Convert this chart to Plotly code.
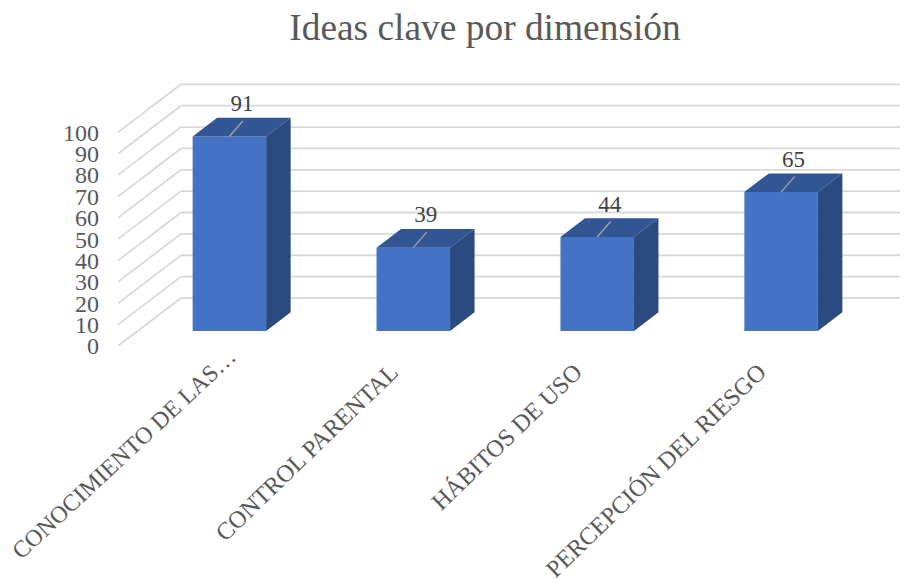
import plotly.graph_objects as go

categories = ["CONOCIMIENTO DE LAS…", "CONTROL PARENTAL", "HÁBITOS DE USO", "PERCEPCIÓN DEL RIESGO"]
values = [91, 39, 44, 65]
y_ticks = [0, 10, 20, 30, 40, 50, 60, 70, 80, 90, 100]

FONT = "Liberation Serif"
TXT = "#595959"
PAGE = 8          # browser body margin around the figure
W, H = 908 - PAGE, 583 - PAGE
PX_X = 183.9      # px per category
PX_Y = 2.137      # px per value unit
L, B_PX = 118 - PAGE, 346 - PAGE
X0 = 229.4 - PAGE  # px of the first category
x_range = [(L - X0) / PX_X, (W - X0) / PX_X]
TOP = 72
y_range = [0, (B_PX - TOP) / PX_Y]

bar_w = 73.5 / PX_X
bar_base = 15 / PX_Y
depth_x, depth_y = 24.5 / PX_X, 18.7 / PX_Y
wall_x, wall_y = 63 / PX_X, 48 / PX_Y
lead_x, lead_y = 13.4 / PX_X, 15.5 / PX_Y
lab_x, lab_y = 12.5 / PX_X, 31 / PX_Y
label_shift = -22 / PX_X

idx = list(range(len(categories)))
fig = go.Figure()

fig.add_trace(go.Bar(x=idx, y=values, base=bar_base, width=bar_w,
                     marker=dict(color="#4472C4", line=dict(width=0)),
                     hoverinfo="x+y", showlegend=False))

for i, v in zip(idx, values):
    xl, xr = i - bar_w / 2, i + bar_w / 2
    top = bar_base + v
    fig.add_trace(go.Scatter(
        x=[xl, xr, xr + depth_x, xl + depth_x, xl],
        y=[top, top, top + depth_y, top + depth_y, top],
        fill="toself", fillcolor="#325594", mode="lines", line=dict(width=0),
        hoverinfo="skip", showlegend=False))
    fig.add_trace(go.Scatter(
        x=[xr, xr + depth_x, xr + depth_x, xr, xr],
        y=[bar_base, bar_base + depth_y, top + depth_y, top, bar_base],
        fill="toself", fillcolor="#2A4A80", mode="lines", line=dict(width=0),
        hoverinfo="skip", showlegend=False))
    fig.add_trace(go.Scatter(
        x=[i, i + lead_x], y=[top, top + lead_y], mode="lines",
        line=dict(color="#A6A6A6", width=1.3), hoverinfo="skip", showlegend=False))

fig.add_trace(go.Scatter(
    x=[i + lab_x for i in idx], y=[bar_base + v + lab_y for v in values],
    mode="text", text=[str(v) for v in values], textposition="middle center",
    textfont=dict(family=FONT, size=23, color="#404040"),
    hoverinfo="skip", showlegend=False))

# carrier of the second category axis, which holds the shorter-anchored first label
fig.add_trace(go.Scatter(x=idx[:1], y=values[:1], xaxis="x2", mode="markers",
                         marker=dict(opacity=0), hoverinfo="skip", showlegend=False))

shapes = []
for t in y_ticks:
    line = dict(color="#D9D9D9", width=1.8)
    shapes.append(dict(type="line", xref="x", yref="y", layer="below", line=line,
                       x0=x_range[0], y0=t, x1=x_range[0] + wall_x, y1=t + wall_y))
    shapes.append(dict(type="line", xref="x", yref="y", layer="below", line=line,
                       x0=x_range[0] + wall_x, y0=t + wall_y, x1=x_range[1], y1=t + wall_y))

fig.update_layout(
    width=W, height=H, autosize=False,
    margin=dict(l=L, r=0, t=TOP, b=H - B_PX, autoexpand=False),
    paper_bgcolor="white", plot_bgcolor="rgba(0,0,0,0)",
    title=dict(text="Ideas clave por dimensión", x=(485 - PAGE) / W, y=1 - (27 - PAGE) / H,
               xanchor="center", yanchor="middle",
               font=dict(family=FONT, size=37.4, color=TXT)),
    showlegend=False, shapes=shapes, barmode="overlay",
    xaxis=dict(range=x_range, tickmode="array", automargin=False, ticklabeloverflow="allow",
               tickvals=[i + label_shift for i in idx[1:]], ticktext=categories[1:],
               tickangle=-44, showgrid=False, zeroline=False, showline=False, ticks="",
               ticklabelstandoff=6, tickfont=dict(family=FONT, size=24.3, color=TXT)),
    xaxis2=dict(range=x_range, overlaying="x", anchor="y", side="bottom", tickmode="array",
                automargin=False, ticklabeloverflow="allow",
                tickvals=idx[:1], ticktext=categories[:1],
                tickangle=-43, showgrid=False, zeroline=False, showline=False, ticks="",
                ticklabelstandoff=-9, tickfont=dict(family=FONT, size=23.8, color=TXT)),
    yaxis=dict(range=y_range, tickmode="array", tickvals=y_ticks, automargin=False,
               showgrid=False, zeroline=False, showline=False, ticks="",
               ticklabelstandoff=18,
               tickfont=dict(family=FONT, size=24, color=TXT)),
)
fig.write_html("out.html")
